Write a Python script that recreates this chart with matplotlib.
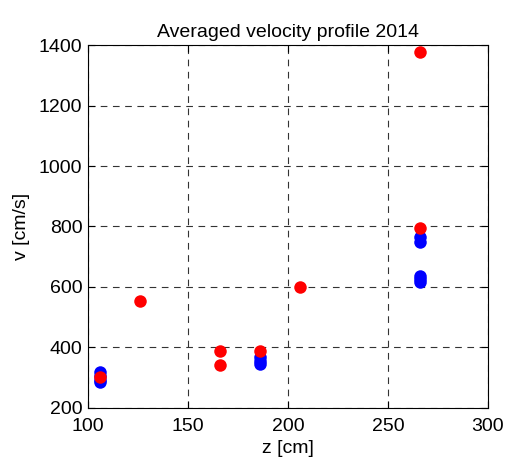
import numpy as np
import matplotlib.pyplot as plt

plt.rcParams['font.family'] = ['Liberation Sans', 'DejaVu Sans']

# blue series (z in cm, v in cm/s)
z_blue = [106, 106, 106, 106, 186, 186, 186, 266, 266, 266, 266, 266]
v_blue = [318, 305, 292, 285, 370, 355, 345, 765, 748, 635, 625, 615]

# red series
z_red = [106, 126, 166, 166, 186, 206, 266, 266]
v_red = [303, 553, 388, 342, 390, 600, 1377, 795]

x_ticks = [100, 150, 200, 250, 300]
y_ticks = [200, 400, 600, 800, 1000, 1200, 1400]

fig = plt.figure(figsize=(5.09, 4.66), dpi=100)
ax = fig.add_axes([0.1729, 0.1245, 0.7858, 0.7789])

ax.plot(z_blue, v_blue, 'o', color='#0000ff', markersize=9, markeredgewidth=0, zorder=3)
ax.plot(z_red, v_red, 'o', color='#ff0000', markersize=9, markeredgewidth=0, zorder=4)

ax.set_xlim(100, 300)
ax.set_ylim(200, 1400)
ax.set_xticks(x_ticks)
ax.set_yticks(y_ticks)
ax.grid(True, color='#333333', linestyle=(0, (6, 5)), linewidth=0.8)
ax.tick_params(direction='in', length=5, top=True, right=True, labelsize=14)
ax.tick_params(axis='x', pad=7)
ax.tick_params(axis='y', pad=4)
for s in ax.spines.values():
    s.set_linewidth(0.8)

ax.set_xlabel('z [cm]', fontsize=14, labelpad=4)
ax.set_ylabel('v [cm/s]', fontsize=14, labelpad=6)
ax.set_title('Averaged velocity profile 2014', fontsize=14, pad=6)

fig.savefig('out.png', dpi=100)
